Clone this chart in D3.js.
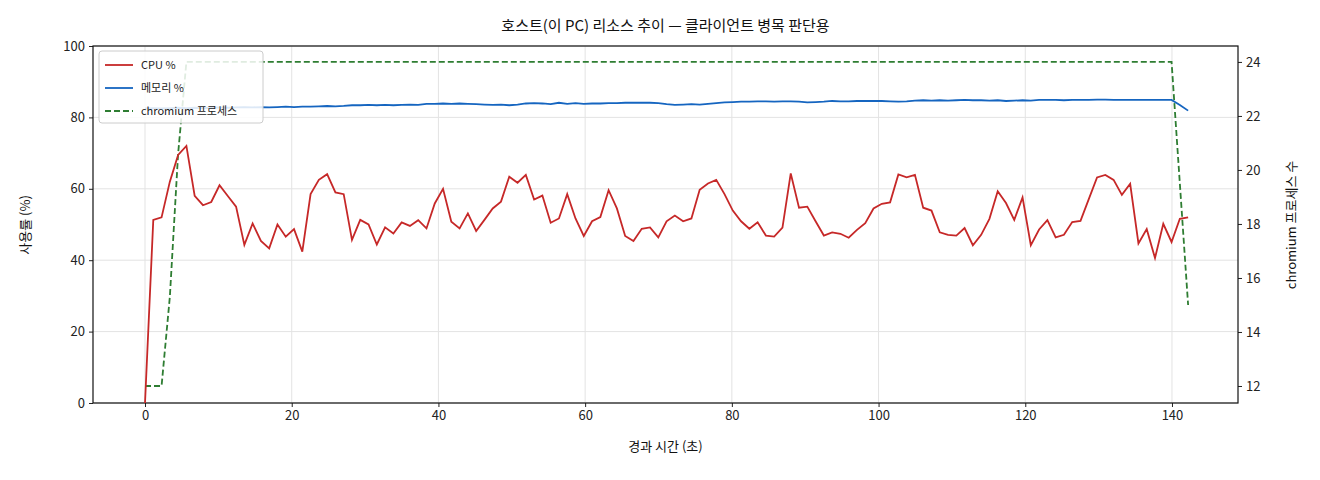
<!DOCTYPE html>
<html><head><meta charset="utf-8">
<script src="https://cdn.jsdelivr.net/npm/d3@7"></script>
<style>body{margin:0;background:#fff}text{font-family:"Noto Sans CJK KR","DejaVu Sans",sans-serif}</style>
</head><body><svg id="c" width="1320" height="480"></svg>
<script>
const dt = 142.2/126;
const cpu = [0,51.3,52,62,69.5,72,58,55.4,56.3,61,58,55,44.3,50.3,45.4,43.3,50,46.6,48.7,42.4,
58.5,62.5,64.1,59,58.5,45.7,51.3,50,44.4,49.2,47.5,50.6,49.6,51.2,48.9,55.9,60,50.8,48.9,53.1,
48.2,51.3,54.5,56.4,63.4,61.7,63.9,57,58.1,50.5,51.7,58.5,51.7,46.8,50.9,52.1,59.6,54.5,46.8,45.4,
48.8,49.2,46.4,50.9,52.5,50.9,51.7,59.7,61.5,62.5,58.5,53.9,50.9,48.8,50.6,46.9,46.6,49.1,64.3,54.7,
55,50.9,46.9,47.8,47.4,46.3,48.5,50.4,54.5,55.8,56.2,64,63.2,63.9,54.7,53.9,47.8,47.1,46.9,49,
44.2,47.1,51.6,59.3,56,51.3,57.6,44.2,48.6,51.2,46.4,47.1,50.7,51,57.1,63.2,63.9,62.5,58.3,61.4,
44.7,48.7,40.6,50.2,45.1,51.6,52];
const mem = [82.5,82.6,82.5,82.6,82.7,82.6,82.7,82.6,82.7,82.8,82.7,82.8,82.9,82.8,82.9,82.8,82.9,83.0,82.9,83.0,
83.0,83.1,83.2,83.1,83.2,83.4,83.4,83.5,83.4,83.5,83.4,83.5,83.6,83.5,83.8,83.8,83.9,83.8,83.9,83.8,
83.7,83.6,83.5,83.6,83.4,83.6,83.9,84.0,83.9,83.7,84.1,83.8,84.0,83.8,83.9,83.9,84.0,84.0,84.1,84.1,
84.1,84.1,84.0,83.7,83.5,83.6,83.7,83.6,83.8,84.0,84.2,84.3,84.4,84.4,84.5,84.5,84.4,84.5,84.5,84.4,
84.2,84.3,84.4,84.6,84.5,84.5,84.6,84.6,84.6,84.6,84.5,84.4,84.5,84.7,84.8,84.7,84.8,84.7,84.8,84.9,
84.8,84.8,84.7,84.8,84.6,84.7,84.8,84.7,84.9,84.9,84.9,84.8,84.9,84.9,84.9,85.0,85.0,84.9,84.9,84.9,
84.9,84.9,84.9,84.9,84.9,83.5,81.9];
const proc = [12,12,12,15.3,20.6,24,24,24,24,24,24,24,24,24,24,24,24,24,24,24,
24,24,24,24,24,24,24,24,24,24,24,24,24,24,24,24,24,24,24,24,
24,24,24,24,24,24,24,24,24,24,24,24,24,24,24,24,24,24,24,24,
24,24,24,24,24,24,24,24,24,24,24,24,24,24,24,24,24,24,24,24,
24,24,24,24,24,24,24,24,24,24,24,24,24,24,24,24,24,24,24,24,
24,24,24,24,24,24,24,24,24,24,24,24,24,24,24,24,24,24,24,24,
24,24,24,24,24,19.5,15];
const xTicks=[0,20,40,60,80,100,120,140], yTicks=[0,20,40,60,80,100], rTicks=[12,14,16,18,20,22,24];

const svg=d3.select("#c");
const L=93,R=1238,T=46,B=403;
const x=d3.scaleLinear().domain([-7.09,149.0]).range([L,R]);
const y=d3.scaleLinear().domain([0,100]).range([B,T]);
const y2=d3.scaleLinear().domain([11.37,24.59]).range([B,T]);
const g=svg.append("g");
g.selectAll(".gx").data(xTicks).join("line").attr("x1",d=>x(d)).attr("x2",d=>x(d)).attr("y1",T).attr("y2",B).attr("stroke","#e3e3e3");
g.selectAll(".gy").data(yTicks).join("line").attr("y1",d=>y(d)).attr("y2",d=>y(d)).attr("x1",L).attr("x2",R).attr("stroke","#e3e3e3");
const ax=svg.append("g").attr("transform",`translate(0,${B})`).call(d3.axisBottom(x).tickValues(xTicks).tickSize(4).tickPadding(4));
const ay=svg.append("g").attr("transform",`translate(${L},0)`).call(d3.axisLeft(y).tickValues(yTicks).tickSize(4).tickPadding(4));
const ar=svg.append("g").attr("transform",`translate(${R},0)`).call(d3.axisRight(y2).tickValues(rTicks).tickSize(4).tickPadding(4));
[ax,ay,ar].forEach(a=>{a.select(".domain").remove();a.selectAll("text").attr("font-size",13).attr("fill","#222");a.selectAll("line").attr("stroke","#222");});
svg.append("rect").attr("x",L).attr("y",T).attr("width",R-L).attr("height",B-T).attr("fill","none").attr("stroke","#111").attr("stroke-width",1.2);
const ln=(arr,ys)=>d3.line().x((d,i)=>x(i*dt)).y(d=>ys(d))(arr);
svg.append("path").attr("d",ln(proc,y2)).attr("fill","none").attr("stroke","#2e7d32").attr("stroke-width",1.8).attr("stroke-dasharray","6,3");
svg.append("path").attr("d",ln(mem,y)).attr("fill","none").attr("stroke","#1565c0").attr("stroke-width",1.8);
svg.append("path").attr("d",ln(cpu,y)).attr("fill","none").attr("stroke","#c62828").attr("stroke-width",1.8);
svg.append("text").attr("x",(L+R)/2).attr("y",31).attr("text-anchor","middle").attr("font-size",15).attr("fill","#111").text("호스트(이 PC) 리소스 추이 — 클라이언트 병목 판단용");
svg.append("text").attr("x",(L+R)/2).attr("y",451).attr("text-anchor","middle").attr("font-size",13).attr("fill","#111").text("경과 시간 (초)");
svg.append("text").attr("transform","translate(30,225) rotate(-90)").attr("text-anchor","middle").attr("font-size",13).attr("fill","#111").text("사용률 (%)");
svg.append("text").attr("transform","translate(1296,225) rotate(-90)").attr("text-anchor","middle").attr("font-size",13).attr("fill","#111").text("chromium 프로세스 수");
const lg=svg.append("g").attr("transform","translate(99,51)");
lg.append("rect").attr("width",164).attr("height",72).attr("rx",3).attr("fill","#fff").attr("fill-opacity",0.85).attr("stroke","#ccc");
const items=[["CPU %","#c62828",null],["메모리 %","#1565c0",null],["chromium 프로세스","#2e7d32","6,3"]];
items.forEach((it,i)=>{const yy=14+i*23;
lg.append("line").attr("x1",6).attr("x2",34).attr("y1",yy).attr("y2",yy).attr("stroke",it[1]).attr("stroke-width",1.8).attr("stroke-dasharray",it[2]);
lg.append("text").attr("x",42).attr("y",yy+4).attr("font-size",11).attr("fill","#222").text(it[0]);});
</script></body></html>
